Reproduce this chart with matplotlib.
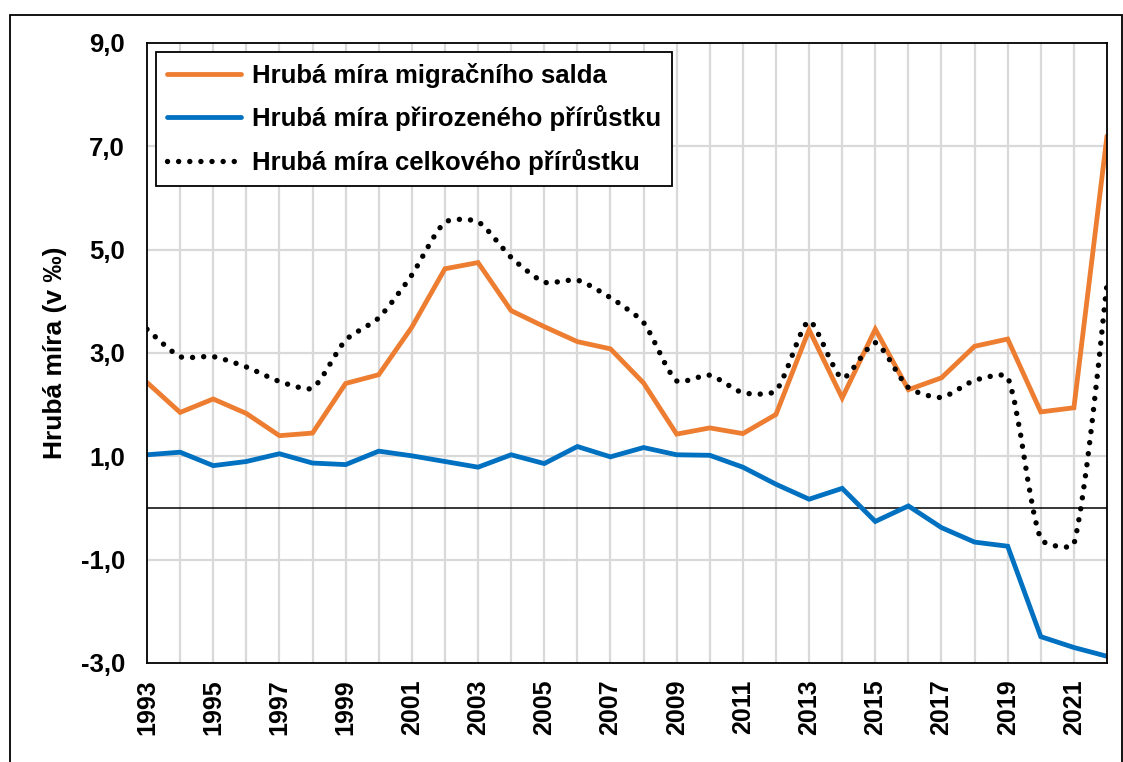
import numpy as np
import matplotlib
matplotlib.use("Agg")
import matplotlib.pyplot as plt
from matplotlib.path import Path
from matplotlib.patches import PathPatch, Rectangle
from matplotlib.lines import Line2D

plt.rcParams['font.family'] = ['Liberation Sans', 'DejaVu Sans']

years = list(range(1993, 2023))
migrace = [2.43, 1.85, 2.11, 1.83, 1.40, 1.45, 2.41, 2.58, 3.50, 4.63,
           4.75, 3.82, 3.51, 3.22, 3.08, 2.42, 1.43, 1.55, 1.44, 1.81,
           3.45, 2.13, 3.46, 2.29, 2.52, 3.13, 3.27, 1.86, 1.94, 7.20]
prirozeny = [1.03, 1.08, 0.82, 0.90, 1.05, 0.87, 0.84, 1.10, 1.01, 0.90,
             0.79, 1.03, 0.86, 1.19, 0.99, 1.17, 1.03, 1.02, 0.79, 0.46,
             0.17, 0.38, -0.26, 0.04, -0.38, -0.66, -0.74, -2.49, -2.70, -2.87]
celkovy = [3.46, 2.93, 2.93, 2.73, 2.45, 2.32, 3.25, 3.68, 4.51, 5.53,
           5.54, 4.85, 4.37, 4.41, 4.07, 3.59, 2.46, 2.57, 2.23, 2.27,
           3.62, 2.51, 3.20, 2.33, 2.14, 2.47, 2.53, -0.60, -0.70, 4.33]

labels = ["Hrubá míra migračního salda",
          "Hrubá míra přirozeného přírůstku",
          "Hrubá míra celkového přírůstku"]
yticks = [9, 7, 5, 3, 1, -1, -3]
ytick_labels = ["9,0", "7,0", "5,0", "3,0", "1,0", "-1,0", "-3,0"]
xtick_years = list(range(1993, 2022, 2))

ORANGE = "#ED7D31"
BLUE = "#0070C0"
GRID = "#D9D9D9"

W, H = 1123, 762
fig = plt.figure(figsize=(W / 100, H / 100), dpi=100)
ax = fig.add_axes([147 / W, 1 - 663 / H, (1107 - 147) / W, (663 - 43) / H])
ax.set_xlim(1993, 2022)
ax.set_ylim(-3, 9)

# grid
for yr in years[1:-1]:
    ax.axvline(yr, color=GRID, lw=1.6, zorder=1)
for yv in [-1, 1, 3, 5, 7]:
    ax.axhline(yv, color=GRID, lw=1.6, zorder=1)
ax.axhline(0, color="black", lw=1.1, zorder=2)

lw = 4.8 * 72 / 100
l1, = ax.plot(years, migrace, color=ORANGE, lw=lw, zorder=4,
              solid_joinstyle='miter', solid_capstyle='round')
l2, = ax.plot(years, prirozeny, color=BLUE, lw=lw, zorder=4,
              solid_joinstyle='miter', solid_capstyle='round')

# smoothed dotted line (Excel-style bezier smoothing, computed in display space)
fig.canvas.draw()
pts = ax.transData.transform(np.column_stack([years, celkovy]))
n = len(pts)
verts = [pts[0]]
codes = [Path.MOVETO]
t = 0.22
for i in range(n - 1):
    p0 = pts[i - 1] if i > 0 else pts[i]
    p1 = pts[i]
    p2 = pts[i + 1]
    p3 = pts[i + 2] if i + 2 < n else pts[i + 1]
    d01 = np.hypot(*(p1 - p0))
    d12 = np.hypot(*(p2 - p1))
    d23 = np.hypot(*(p3 - p2))
    f1 = t * d12 / (d01 + d12) if d01 > 0 else t / 2
    f2 = t * d12 / (d12 + d23) if d23 > 0 else t / 2
    c1 = p1 + (p2 - p0) * f1
    c2 = p2 - (p3 - p1) * f2
    verts += [c1, c2, p2]
    codes += [Path.CURVE4] * 3
verts_data = ax.transData.inverted().transform(np.array(verts))
dot_lw = 5.4 * 72 / 100
dots = (0, (0.01, 2.05))
patch = PathPatch(Path(verts_data, codes), fill=False, edgecolor="black",
                  lw=dot_lw, linestyle=dots, capstyle='round', zorder=5)
ax.add_patch(patch)

for s in ax.spines.values():
    s.set_color("black")
    s.set_linewidth(1.3)
    s.set_zorder(6)

ax.set_yticks(yticks)
ax.set_yticklabels(ytick_labels, fontsize=18.5, fontweight='bold')
ax.set_xticks(xtick_years)
ax.set_xticklabels([str(y) for y in xtick_years], rotation=90, fontsize=18,
                   fontweight='bold')
ax.tick_params(axis='both', length=0)
ax.tick_params(axis='y', pad=16)
ax.tick_params(axis='x', pad=12)

fig.text(55 / W, 1 - 353 / H, "Hrubá míra (v ‰)", rotation=90, ha='center',
         va='center', fontsize=19, fontweight='bold')

hdot = Line2D([], [], color="black", lw=dot_lw, linestyle=dots,
              dash_capstyle='round')
fs_leg = 18.5
leg = ax.legend([l1, l2, hdot], labels, loc='upper left',
                bbox_to_anchor=((156 - 147) / 960, (663 - 52) / 620),
                borderaxespad=0, fancybox=False, framealpha=1,
                edgecolor='black', prop={'size': fs_leg, 'weight': 'bold'},
                handlelength=2.9, handletextpad=0.4, borderpad=0.42,
                labelspacing=0.68)
leg.get_frame().set_linewidth(1.3)
leg.set_zorder(10)

# outer frame
fig.patches.append(Rectangle((9.5 / W, -0.05), (1121.5 - 9.5) / W, 1.05 - 15 / H,
                             transform=fig.transFigure, fill=False,
                             edgecolor='black', lw=1.3))

fig.savefig("out.png", dpi=100)
